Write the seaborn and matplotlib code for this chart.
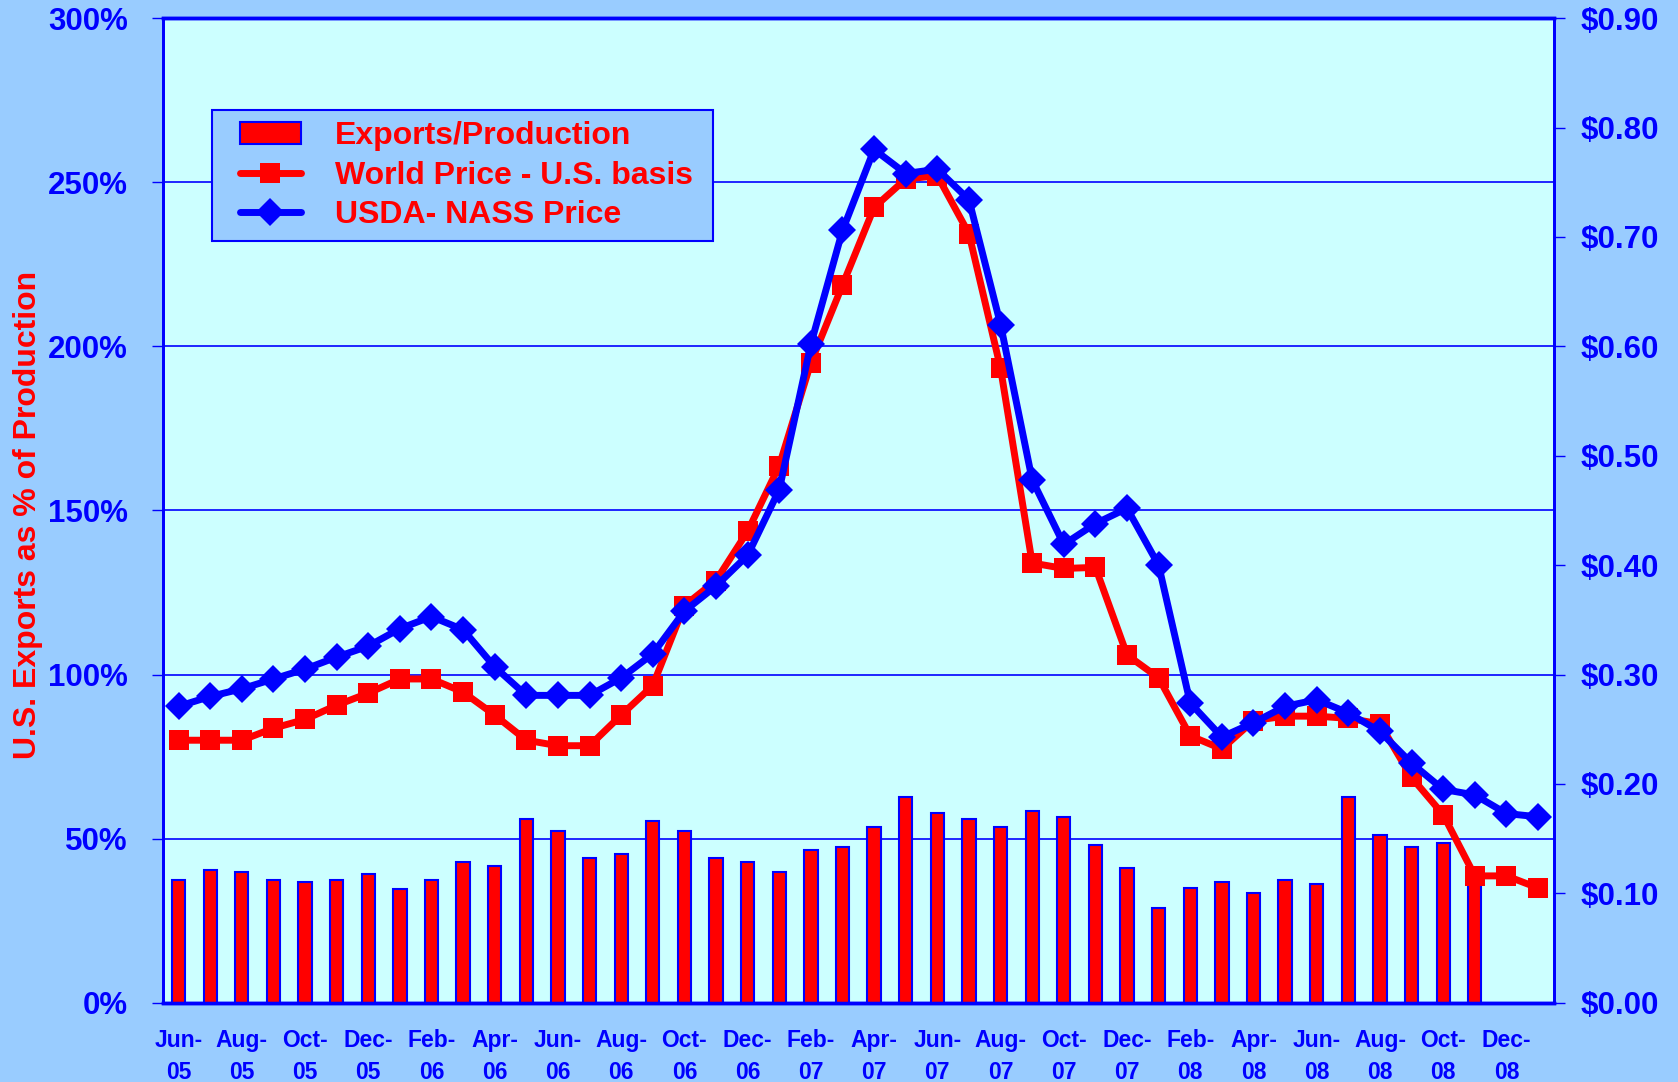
import numpy as np
import pandas as pd
import seaborn as sns
import matplotlib.pyplot as plt
from matplotlib.patches import Patch
from matplotlib.lines import Line2D
from matplotlib.legend_handler import HandlerPatch, HandlerLine2D
from matplotlib.ticker import FuncFormatter, FixedLocator

# --- data ---
months = [
    "Jun-05", "Jul-05", "Aug-05", "Sep-05", "Oct-05", "Nov-05", "Dec-05",
    "Jan-06", "Feb-06", "Mar-06", "Apr-06", "May-06", "Jun-06", "Jul-06",
    "Aug-06", "Sep-06", "Oct-06", "Nov-06", "Dec-06", "Jan-07", "Feb-07",
    "Mar-07", "Apr-07", "May-07", "Jun-07", "Jul-07", "Aug-07", "Sep-07",
    "Oct-07", "Nov-07", "Dec-07", "Jan-08", "Feb-08", "Mar-08", "Apr-08",
    "May-08", "Jun-08", "Jul-08", "Aug-08", "Sep-08", "Oct-08", "Nov-08",
    "Dec-08", "Jan-09",
]
# exports as % of production (no bars for Dec-08, Jan-09)
exports_pct = [
    37.4, 40.5, 39.8, 37.4, 36.8, 37.4, 39.2, 34.6, 37.4, 42.8, 41.6,
    56.0, 52.4, 44.1, 45.3, 55.5, 52.4, 44.1, 42.9, 39.9, 46.6, 47.6,
    53.7, 62.6, 57.9, 56.0, 53.6, 58.4, 56.7, 48.2, 41.1, 29.0, 35.1,
    36.9, 33.4, 37.4, 36.2, 62.6, 51.2, 47.6, 48.8, 39.0,
]
world_price = [
    0.240, 0.240, 0.240, 0.251, 0.259, 0.272, 0.283, 0.296, 0.296, 0.284,
    0.263, 0.240, 0.235, 0.235, 0.263, 0.290, 0.363, 0.386, 0.431, 0.491,
    0.585, 0.656, 0.727, 0.753, 0.756, 0.703, 0.580, 0.402, 0.397, 0.398,
    0.318, 0.297, 0.244, 0.232, 0.258, 0.262, 0.262, 0.260, 0.255, 0.206,
    0.172, 0.116, 0.116, 0.105,
]
nass_price = [
    0.271, 0.280, 0.287, 0.296, 0.305, 0.316, 0.326, 0.342, 0.353, 0.341,
    0.307, 0.281, 0.281, 0.281, 0.297, 0.319, 0.358, 0.381, 0.409, 0.469,
    0.602, 0.706, 0.780, 0.758, 0.762, 0.734, 0.620, 0.478, 0.419, 0.438,
    0.452, 0.400, 0.274, 0.243, 0.256, 0.271, 0.277, 0.265, 0.248, 0.219,
    0.195, 0.190, 0.173, 0.170,
]

BG = "#99CCFF"
PLOT_BG = "#CCFFFF"
BLUE = "#0000FF"
RED = "#FF0000"

sns.set_style("white")
plt.rcParams["font.family"] = ["Liberation Sans", "DejaVu Sans"]
plt.rcParams["font.weight"] = "bold"

fig = plt.figure(figsize=(16.78, 10.82), dpi=100, facecolor=BG)
ax = fig.add_axes([0.097, 0.0732, 0.829, 0.910])
ax.set_facecolor(PLOT_BG)

# --- bars ---
bar_df = pd.DataFrame({"month": months[:len(exports_pct)], "pct": exports_pct})
sns.barplot(data=bar_df, x="month", y="pct", order=months, ax=ax,
            color=RED, saturation=1, edgecolor=BLUE, linewidth=1.5,
            width=0.42, zorder=3)
ax.set_xlim(-0.5, len(months) - 0.5)
ax.set_ylim(0, 300)
ax.set_yticks(np.arange(0, 301, 50))
ax.yaxis.set_major_formatter(FuncFormatter(lambda v, p: f"{v:.0f}%"))
ax.grid(axis="y", color=BLUE, linewidth=1.2, zorder=0)
ax.set_axisbelow(True)

# --- price lines ---
ax2 = ax.twinx()
idx = np.arange(len(months))
sns.lineplot(x=idx, y=world_price, ax=ax2, color=RED, linewidth=5,
             marker="s", markersize=14, markeredgecolor=RED, markeredgewidth=0)
sns.lineplot(x=idx, y=nass_price, ax=ax2, color=BLUE, linewidth=5,
             marker="D", markersize=14, markeredgecolor=BLUE, markeredgewidth=0)
ax2.set_ylim(0, 0.9)
ax2.set_yticks(np.arange(0, 0.91, 0.1))
ax2.yaxis.set_major_formatter(FuncFormatter(lambda v, p: f"${v:.2f}"))
ax2.set_xlim(-0.5, len(months) - 0.5)

# --- x ticks: labels every 2 months, tick marks at month boundaries ---
lab_pos = idx[::2]
ax.set_xticks(lab_pos)
ax.set_xticklabels([m.replace("-", "-\n") for m in months[::2]],
                   fontsize=16.5, fontweight="bold", color=BLUE, linespacing=1.5)
ax.xaxis.set_minor_locator(FixedLocator(np.arange(-0.5, len(months), 1)))
ax.tick_params(axis="x", which="major", length=0, pad=19)
ax.tick_params(axis="x", which="minor", length=7, width=1, color=BLUE)
ax.set_xlabel("")

ax.tick_params(axis="y", length=8, width=1, color=BLUE, labelcolor=BLUE,
               labelsize=22.5, pad=17, left=True)
ax2.tick_params(axis="y", length=8, width=1, color=BLUE, labelcolor=BLUE,
                labelsize=22.5, pad=11)
for t in ax.get_yticklabels() + ax2.get_yticklabels():
    t.set_fontweight("bold")

ax.set_ylabel("U.S. Exports as % of Production", color=RED, fontsize=23,
              fontweight="bold")
ax.yaxis.set_label_coords(-0.086, 0.495)
ax2.set_ylabel("")

for a in (ax, ax2):
    for name, sp in a.spines.items():
        sp.set_color(BLUE)
        sp.set_linewidth(2.5 if name in ("top", "bottom") else 2)

# --- legend ---
handles = [
    Patch(facecolor=RED, edgecolor=BLUE, linewidth=1.5),
    Line2D([], [], color=RED, linewidth=5, marker="s", markersize=14,
           markeredgewidth=0),
    Line2D([], [], color=BLUE, linewidth=5, marker="D", markersize=14,
           markeredgewidth=0),
]
labels = ["Exports/Production", "World Price - U.S. basis ", "USDA- NASS Price"]
hmap = {Patch: HandlerPatch(xpad=0.52), Line2D: HandlerLine2D(xpad=0.52)}
leg = ax2.legend(handles, labels, loc="upper left",
                 bbox_to_anchor=(0.0354, 0.9068), borderaxespad=0,
                 fontsize=23, facecolor=BG, edgecolor=BLUE, framealpha=1,
                 fancybox=False, handlelength=2.43, handletextpad=1.07,
                 labelspacing=0.3, borderpad=0.35, handler_map=hmap)
leg.get_frame().set_linewidth(1.5)
for t in leg.get_texts():
    t.set_color(RED)
    t.set_fontweight("bold")

fig.savefig("out.png", dpi=100, facecolor=BG)
